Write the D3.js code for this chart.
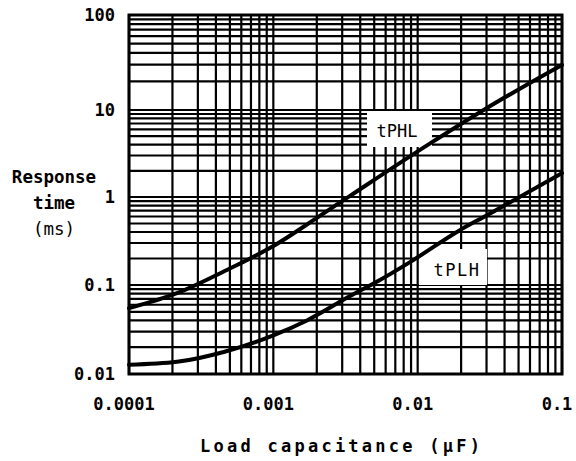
<!DOCTYPE html>
<html><head><meta charset="utf-8">
<script src="https://cdn.jsdelivr.net/npm/d3@7"></script>
<style>body{margin:0;background:#fff}svg{display:block}</style>
</head><body><svg id="c" width="576" height="461"></svg>
<script>
// ---- data ----
const xTickValues = [0.0001, 0.001, 0.01, 0.1];
const xTickLabels = ["0.0001", "0.001", "0.01", "0.1"];
const yTickValues = [0.01, 0.1, 1, 10, 100];
const yTickLabels = ["0.01", "0.1", "1", "10", "100"];
const seriesNames = ["tPHL", "tPLH"];
const tPHL_cap  = [0.0001, 0.000215, 0.00046, 0.001, 0.0021, 0.0034, 0.0122, 0.0302, 0.1];
const tPHL_time = [0.055, 0.081, 0.144, 0.277, 0.61, 1.03, 4.13, 10.5, 29.8];
const tPLH_cap  = [0.0001, 0.000215, 0.00046, 0.001, 0.00171, 0.0034, 0.00548, 0.00885, 0.0196, 0.0302, 0.1];
const tPLH_time = [0.0127, 0.0137, 0.0178, 0.0272, 0.040, 0.075, 0.114, 0.182, 0.42, 0.62, 1.88];
const xTitle = "Load capacitance (μF)";
const yTitle = ["Response", "time", "(ms)"];

(function () {
// ---- layout ----
const svg = d3.select("#c");
const left = 129, right = 562;
const x = d3.scaleLog().domain([0.0001, 0.1]).range([left, right]);
const y = d3.scaleLog().domain([0.01, 0.1, 1, 10, 100]).range([374, 285, 197, 110, 15]);
const yTop = y(100), yBottom = y(0.01);

const g = svg.append("g");
// grid
const xGrid = d3.scaleLog().domain([0.0001, 0.1]).ticks();
const yGrid = d3.scaleLog().domain([0.01, 100]).ticks();
g.selectAll("line.vx").data(xGrid).join("line")
  .attr("x1", d => x(d)).attr("x2", d => x(d))
  .attr("y1", yTop).attr("y2", yBottom)
  .attr("stroke", "#000").attr("stroke-width", 2.2);
g.selectAll("line.hy").data(yGrid).join("line")
  .attr("y1", d => y(d)).attr("y2", d => y(d))
  .attr("x1", left).attr("x2", right)
  .attr("stroke", "#000").attr("stroke-width", 2.2);
// frame
g.append("rect").attr("x", left).attr("y", yTop)
  .attr("width", right - left).attr("height", yBottom - yTop)
  .attr("fill", "none").attr("stroke", "#000").attr("stroke-width", 3);

// label boxes
const boxes = [
  {name: seriesNames[0], x0: 367, x1: 432, y0: 111, y1: 147, tx: 397, ty: 137, ls: 0},
  {name: seriesNames[1], x0: 419, x1: 487, y0: 249, y1: 285, tx: 457, ty: 276, ls: 1.5}
];
g.selectAll("rect.lb").data(boxes).join("rect")
  .attr("x", d => d.x0).attr("y", d => d.y0)
  .attr("width", d => d.x1 - d.x0).attr("height", d => d.y1 - d.y0)
  .attr("fill", "#fff");

// curves
const line = d3.line().x(d => x(d[0])).y(d => y(d[1])).curve(d3.curveMonotoneX);
const series = [d3.zip(tPHL_cap, tPHL_time), d3.zip(tPLH_cap, tPLH_time)];
g.selectAll("path.s").data(series).join("path")
  .attr("d", line).attr("fill", "none").attr("stroke", "#000")
  .attr("stroke-width", 4).attr("stroke-linecap", "round");

const mono = "'DejaVu Sans Mono', monospace";
g.selectAll("text.lb").data(boxes).join("text")
  .attr("x", d => d.tx).attr("y", d => d.ty)
  .attr("text-anchor", "middle").attr("font-family", mono)
  .attr("font-size", 17).attr("letter-spacing", d => d.ls)
  .text(d => d.name);

// tick labels
svg.selectAll("text.xt").data(xTickValues).join("text")
  .attr("x", d => x(d) - 5).attr("y", 410)
  .attr("text-anchor", "middle").attr("font-family", mono).attr("font-size", 17)
  .attr("font-weight", "bold")
  .text((d, i) => xTickLabels[i]);
svg.selectAll("text.yt").data(yTickValues).join("text")
  .attr("x", 115).attr("y", d => y(d) + 6)
  .attr("text-anchor", "end").attr("font-family", mono).attr("font-size", 17)
  .attr("font-weight", "bold")
  .text((d, i) => yTickLabels[i]);

// titles
svg.append("text").attr("x", 200).attr("y", 452)
  .attr("font-family", mono).attr("font-size", 17).attr("font-weight", "bold")
  .attr("textLength", 280).attr("lengthAdjust", "spacing")
  .text(xTitle);
const yb = [183, 209, 235];
svg.selectAll("text.yl").data(yTitle).join("text")
  .attr("x", 54).attr("y", (d, i) => yb[i])
  .attr("text-anchor", "middle").attr("font-family", mono).attr("font-size", 17.5)
  .attr("font-weight", (d, i) => i < 2 ? "bold" : "normal")
  .text(d => d);
})();
</script></body></html>
